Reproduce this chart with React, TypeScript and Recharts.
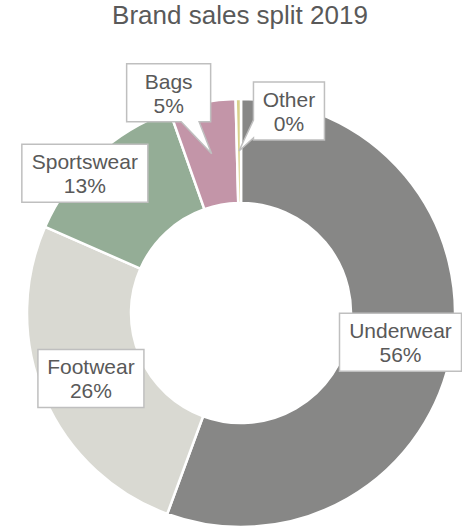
import React from 'react';
import { PieChart, Pie, Cell } from 'recharts';

const categories = ['Underwear', 'Footwear', 'Sportswear', 'Bags', 'Other'];
const sales = [55.6, 26.0, 13.0, 5.0, 0.4];
const colors = ['#878786', '#d9d9d2', '#94ad96', '#c395a8', '#d8d08c'];

// label box nudges from the ring middle, plus box width
const labelLayout = [
  { dx: 0, dy: 1, w: 122 },
  { dx: -1, dy: 2, w: 106 },
  { dx: -46, dy: -21, w: 126 },
  { dx: -43, dy: -61, w: 84 },
  { dx: 50, dy: -40, w: 71 },
];

const total = sales.reduce((s, v) => s + v, 0);
const data = categories.map((name, i) => ({ name, value: sales[i] }));

const FONT = '"Liberation Sans", Arial, sans-serif';
const RAD = Math.PI / 180;

const calloutPath = (x0: number, y0: number, x1: number, y1: number, tx: number, ty: number) => {
  const cxb = (x0 + x1) / 2;
  const cyb = (y0 + y1) / 2;
  const below = ty - y1;
  const left = x0 - tx;
  const above = y0 - ty;
  const right = tx - x1;
  const m = Math.max(below, left, above, right);
  if (m <= 0) {
    return `M${x0},${y0}H${x1}V${y1}H${x0}Z`;
  }
  const hw = 9;
  if (m === below) {
    const bx = Math.min(Math.max((cxb + tx) / 2, x0 + hw + 2), x1 - hw - 2);
    return `M${x0},${y0}H${x1}V${y1}H${bx + hw}L${tx},${ty}L${bx - hw},${y1}H${x0}Z`;
  }
  if (m === left) {
    const by = Math.min(Math.max((cyb + ty) / 2, y0 + hw + 2), y1 - hw - 2);
    return `M${x0},${y0}H${x1}V${y1}H${x0}V${by + hw}L${tx},${ty}L${x0},${by - hw}Z`;
  }
  if (m === above) {
    const bx = Math.min(Math.max((cxb + tx) / 2, x0 + hw + 2), x1 - hw - 2);
    return `M${x0},${y0}H${bx - hw}L${tx},${ty}L${bx + hw},${y0}H${x1}V${y1}H${x0}Z`;
  }
  const by = Math.min(Math.max((cyb + ty) / 2, y0 + hw + 2), y1 - hw - 2);
  return `M${x0},${y0}H${x1}V${by - hw}L${tx},${ty}L${x1},${by + hw}V${y1}H${x0}Z`;
};

const renderLabel = (props: any) => {
  const { cx, cy, midAngle, innerRadius, outerRadius, index } = props;
  const r = (innerRadius + outerRadius) / 2;
  const ax = cx + r * Math.cos(-midAngle * RAD);
  const ay = cy + r * Math.sin(-midAngle * RAD);
  const lay = labelLayout[index];
  const bx = ax + lay.dx;
  const by = ay + lay.dy;
  const h = 58;
  const x0 = bx - lay.w / 2;
  const x1 = bx + lay.w / 2;
  const y0 = by - h / 2;
  const y1 = by + h / 2;
  const pct = Math.round((sales[index] / total) * 100);
  return (
    <g key={`lbl-${index}`}>
      <path d={calloutPath(x0, y0, x1, y1, ax, ay)} fill="#ffffff" stroke="#bfbfbf" strokeWidth={1.5} />
      <text x={bx} y={by - 4} textAnchor="middle" fill="#595959" fontSize={21} fontFamily={FONT}>
        {categories[index]}
      </text>
      <text x={bx} y={by + 20} textAnchor="middle" fill="#595959" fontSize={21} fontFamily={FONT}>
        {pct}%
      </text>
    </g>
  );
};

export default function App() {
  return (
    <div style={{ position: 'absolute', left: 0, top: 0, width: 462, height: 530, background: '#fff' }}>
      <PieChart width={462} height={530} margin={{ top: 0, right: 0, bottom: 0, left: 0 }}>
        <Pie
          data={data}
          dataKey="value"
          nameKey="name"
          cx={241}
          cy={313}
          innerRadius={110}
          outerRadius={214}
          startAngle={90}
          endAngle={-270}
          stroke="#ffffff"
          strokeWidth={2.5}
          label={renderLabel}
          labelLine={false}
          isAnimationActive={false}
        >
          {data.map((d, i) => (
            <Cell key={d.name} fill={colors[i]} />
          ))}
        </Pie>
      </PieChart>
      <div
        style={{
          position: 'absolute',
          left: 0,
          top: 0,
          width: 480,
          textAlign: 'center',
          fontFamily: FONT,
          fontSize: 26,
          lineHeight: '30px',
          color: '#595959',
        }}
      >
        Brand sales split 2019
      </div>
    </div>
  );
}
